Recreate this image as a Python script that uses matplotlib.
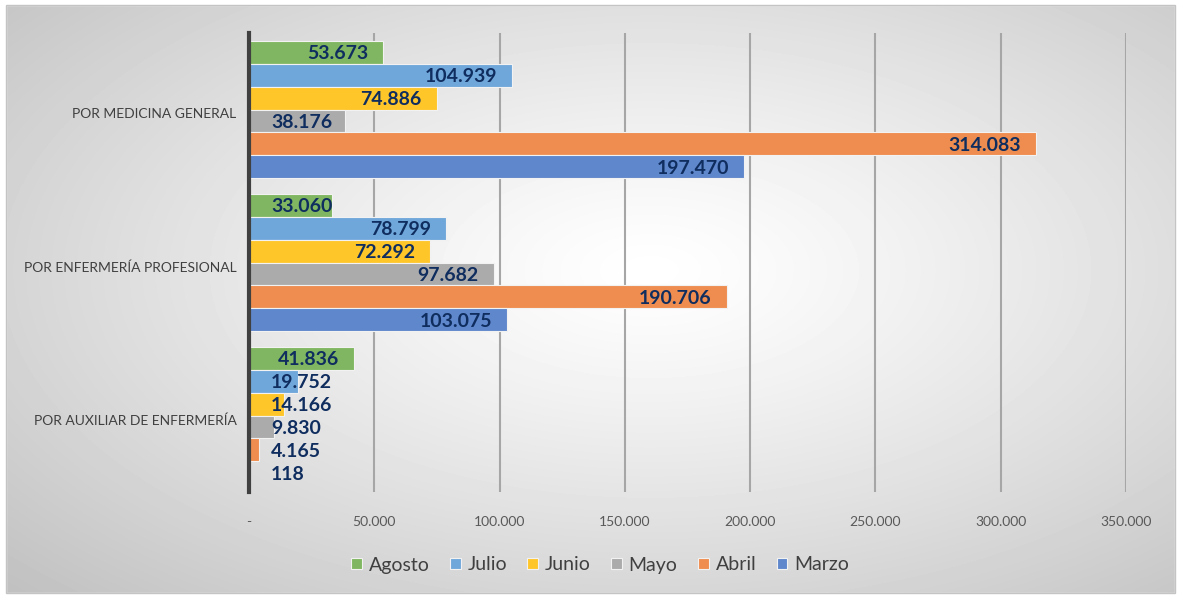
import numpy as np
import matplotlib
matplotlib.use("Agg")
import matplotlib.pyplot as plt
import matplotlib.transforms as mtrans
from matplotlib.patches import Rectangle

plt.rcParams['font.family'] = ['Lato', 'DejaVu Sans']

# datos
categorias = ["POR MEDICINA GENERAL", "POR ENFERMERÍA PROFESIONAL", "POR AUXILIAR DE ENFERMERÍA"]
meses = ["Agosto", "Julio", "Junio", "Mayo", "Abril", "Marzo"]
agosto = [53673, 33060, 41836]
julio = [104939, 78799, 19752]
junio = [74886, 72292, 14166]
mayo = [38176, 97682, 9830]
abril = [314083, 190706, 4165]
marzo = [197470, 103075, 118]
series = [agosto, julio, junio, mayo, abril, marzo]
colores = ["#80B661", "#70A7DB", "#FFC62A", "#ABABAB", "#EE8D4F", "#5F87CC"]
ticks_x = [0, 50000, 100000, 150000, 200000, 250000, 300000, 350000]


def fmt(v):
    return "-" if v == 0 else f"{v:,.0f}".replace(",", ".")


fig = plt.figure(figsize=(11.77, 5.97), dpi=100)

# fondo con degradado radial
bg = fig.add_axes([0, 0, 1, 1], zorder=-10)
h, w = 597, 1177
yy, xx = np.mgrid[0:h, 0:w]
r = np.sqrt(((xx - 650) / 640.0) ** 2 + ((yy - 270) / 330.0) ** 2) / np.sqrt(2)
v = 1 - 0.25 * np.clip(r, 0, 1) ** 1.2
bg.imshow(v, cmap="gray", vmin=0, vmax=1, extent=[0, w, h, 0], aspect="auto")
bg.add_patch(Rectangle((0, 0), w, 5, color="white"))
bg.add_patch(Rectangle((0, 593), w, 5, color="white"))
bg.add_patch(Rectangle((0, 0), 6, h, color="white"))
bg.add_patch(Rectangle((1175, 0), 3, h, color="white"))
bg.add_patch(Rectangle((6, 5), 1169, 588, fill=False, edgecolor="#C4C4C4", lw=1))
bg.set_xlim(0, w)
bg.set_ylim(h, 0)
bg.axis("off")

ax = fig.add_axes([249 / w, 1 - 492 / h, (1126 - 249) / w, (492 - 33) / h])
ax.patch.set_alpha(0)

ypos = np.array([2, 1, 0])
bh = 0.150
barras = []
for j, (mes, vals, c) in enumerate(zip(meses, series, colores)):
    b = ax.barh(ypos + (2.5 - j) * bh, vals, height=bh, color=c, label=mes,
                edgecolor="#F2F2F2", linewidth=0.8, zorder=3)
    barras.append(b)

ax.set_xlim(0, 350000)
ax.set_ylim(-0.5, 2.5)
ax.set_xticks(ticks_x)
ax.set_xticklabels([fmt(t) for t in ticks_x], color="#595959", fontsize=10)
ax.set_yticks(ypos - 0.025)
ax.set_yticklabels(categorias, color="#404040", fontsize=10)
ax.tick_params(axis="x", length=0, pad=17)
ax.tick_params(axis="y", length=0, pad=9)
ax.grid(axis="x", color="#A6A6A6", lw=1.5, zorder=0)
for s in ["top", "right", "bottom"]:
    ax.spines[s].set_visible(False)
ax.spines["left"].set_color("#404040")
ax.spines["left"].set_linewidth(3)
ax.spines["left"].set_zorder(5)

# etiquetas de datos
fig.canvas.draw()
ren = fig.canvas.get_renderer()
x0_px = ax.transData.transform((0, 0))[0]
for b in barras:
    for rect in b:
        val = rect.get_width()
        yc = rect.get_y() + rect.get_height() / 2
        end_px = ax.transData.transform((val, yc))[0]
        t = ax.text(end_px - 15, yc, fmt(val), transform=None, ha="right",
                    va="center_baseline", fontsize=14, fontweight="bold",
                    color="#0F2D5E", zorder=6)
        bb = t.get_window_extent(renderer=ren)
        if bb.x0 < x0_px + 22:
            t.set_position((x0_px + 22, yc))
            t.set_ha("left")
        t.set_transform(mtrans.blended_transform_factory(
            mtrans.IdentityTransform(), ax.transData))

fig.legend(handles=barras, labels=meses, loc="center", bbox_to_anchor=(600 / w, 1 - 565 / h),
           ncol=6, frameon=False, fontsize=14, labelcolor="#404040", handlelength=0.55,
           handleheight=0.55, handletextpad=0.35, columnspacing=1.05)

fig.savefig("out.png", dpi=100)
